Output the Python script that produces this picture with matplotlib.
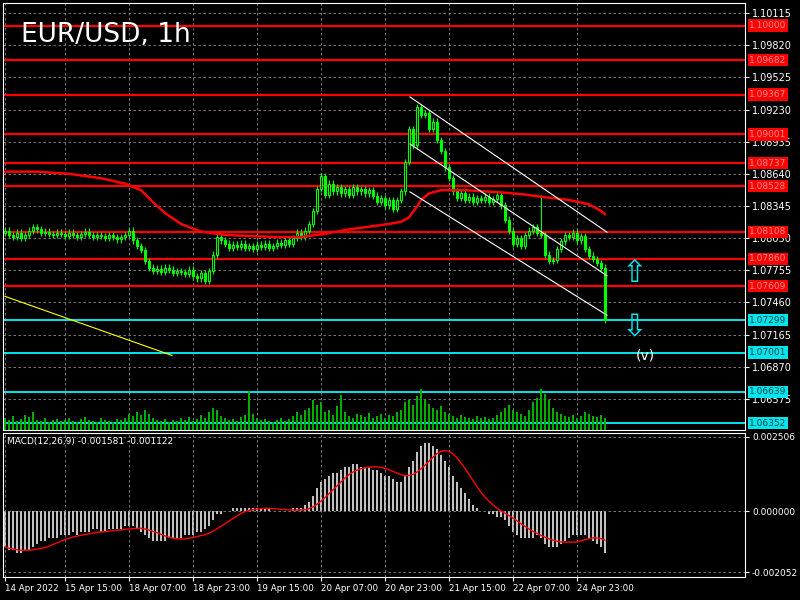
import matplotlib
matplotlib.use("Agg")
import matplotlib.pyplot as plt
import matplotlib.transforms as mtransforms
import numpy as np
import pandas as pd

closes = [1.0812,1.0808,1.0806,1.0810,1.0805,1.0808,1.0812,1.0815,1.0813,1.0810,1.0811,1.0809,1.0808,1.0810,1.0809,
1.0807,1.0810,1.0808,1.0806,1.0809,1.0811,1.0808,1.0806,1.0808,1.0807,1.0805,1.0808,1.0806,1.0804,1.0806,
1.0808,1.0812,1.0803,1.0798,1.0794,1.0784,1.0778,1.0775,1.0777,1.0774,1.0778,1.0776,1.0773,1.0775,1.0774,
1.0772,1.0776,1.0770,1.0768,1.0773,1.0766,1.0775,1.0790,1.0806,1.0803,1.0800,1.0796,1.0799,1.0797,1.0800,
1.0796,1.0798,1.0795,1.0799,1.0797,1.0800,1.0796,1.0798,1.0801,1.0799,1.0803,1.0800,1.0805,1.0810,1.0806,
1.0812,1.0818,1.0830,1.0850,1.0862,1.0845,1.0855,1.0848,1.0852,1.0846,1.0850,1.0845,1.0852,1.0848,1.0850,
1.0846,1.0849,1.0844,1.0838,1.0842,1.0835,1.0840,1.0832,1.0840,1.0848,1.0875,1.0905,1.0890,1.0925,1.0918,
1.0920,1.0905,1.0912,1.0895,1.0885,1.0870,1.0860,1.0848,1.0842,1.0846,1.0840,1.0843,1.0838,1.0842,1.0840,
1.0843,1.0838,1.0841,1.0845,1.0835,1.0822,1.0812,1.0800,1.0805,1.0798,1.0808,1.0812,1.0815,1.0810,1.0808,
1.0790,1.0784,1.0785,1.0795,1.0802,1.0808,1.0806,1.0810,1.0803,1.0807,1.0795,1.0789,1.0786,1.0782,1.0778,1.0730]
opens = [1.0810] + closes[:-1]

volumes = [12,10,14,9,11,15,13,18,10,9,12,8,10,11,9,
10,12,9,8,11,13,10,9,8,12,10,9,8,11,10,
12,16,14,18,15,20,16,12,10,9,11,8,10,9,12,
10,13,9,11,15,12,18,22,20,14,12,10,11,9,13,
15,38,16,12,10,11,9,8,10,12,9,11,14,18,15,
20,22,30,25,28,18,20,15,24,35,18,14,12,16,15,
13,17,12,14,16,12,15,14,18,20,28,30,25,34,40,
30,26,22,20,24,18,16,14,12,15,13,12,11,14,12,
13,11,12,15,18,22,25,20,18,16,14,20,28,32,40,
36,30,22,18,16,14,13,15,12,14,18,16,14,13,15,12]

ma_idx = [0, 8, 16, 24, 30, 34, 37, 40, 44, 49, 55, 61, 68, 74, 80, 86, 92, 96, 99, 101, 103, 104, 106, 109, 115, 124, 130, 134, 141, 146, 149, 150]
ma_val = [1.0866,1.0866,1.0864,1.0860,1.0855,1.0849,1.0838,1.0828,1.0818,1.0811,1.0808,1.0807,1.0806,1.0806,1.0809,1.0813,1.0816,1.0818,1.0820,1.0824,1.0834,1.0840,1.0846,1.0849,1.0849,1.0847,1.0845,1.0843,1.0840,1.0836,1.0830,1.0827]

macd_e4 = [-12,-13,-13,-14,-14,-13,-13,-12,-11,-10,-10,-9,-9,-9,-8,
-8,-8,-7,-8,-7,-7,-7,-6,-6,-7,-7,-6,-6,-6,-6,
-5,-5,-5,-6,-7,-8,-9,-10,-10,-10,-10,-9,-9,-9,-9,
-8,-8,-8,-7,-7,-6,-5,-3,-1,-1,0,0,1,1,1,
1,1,1,1,1,1,1,0,0,0,0,0,1,1,1,
2,3,5,8,10,11,12,13,13,14,15,15,16,16,15,
15,15,14,14,13,12,12,11,10,10,12,15,17,20,22,
23,23,22,21,19,17,15,12,10,8,6,4,2,1,0,
0,-1,-1,-2,-2,-3,-5,-7,-8,-9,-9,-9,-9,-8,-9,
-11,-12,-12,-12,-11,-10,-9,-8,-8,-8,-8,-9,-10,-11,-12,-14]

red_levels = [1.10000,1.09682,1.09367,1.09001,1.08737,1.08528,1.08108,1.07860,1.07609]
cyan_levels = [1.07299,1.07001,1.06639,1.06352]
price_ticks = [1.10115,1.09820,1.09525,1.09230,1.08935,1.08640,1.08345,1.08050,1.07755,1.07460,1.07165,1.06870,1.06575]
x_tick_idx = [0,15,31,47,63,79,95,111,127,143]
x_tick_labels = ["14 Apr 2022","15 Apr 15:00","18 Apr 07:00","18 Apr 23:00","19 Apr 15:00",
                 "20 Apr 07:00","20 Apr 23:00","21 Apr 15:00","22 Apr 07:00","24 Apr 23:00"]
channel_upper = ([101.25, 150.5], [1.09345, 1.08105])
channel_mid = ([101.25, 150.5], [1.08914, 1.07705])
channel_low = ([101.25, 150.5], [1.08474, 1.07343])
yellow_line = ([0, 41.75], [1.07516, 1.06974])

BG = "black"
fig = plt.figure(figsize=(8, 6), dpi=100, facecolor=BG)
ax = fig.add_axes([0.00375, 0.2833, 0.9275, 0.7117], facecolor=BG)
axm = fig.add_axes([0.00375, 0.0383, 0.9275, 0.24], facecolor=BG, sharex=ax)
XMAX = 185

n = len(closes)
idx = np.arange(n)
c = np.array(closes); o = np.array(opens)
wick = 0.0003
hi = np.maximum(o, c) + wick; lo = np.minimum(o, c) - wick
hi[134] = 1.0845
ax.vlines(idx, lo, hi, color="#00ff00", lw=0.8, zorder=3)
for i in range(n):
    bot = min(o[i], c[i]); h = max(abs(c[i] - o[i]), 0.00003)
    fc = "black" if c[i] >= o[i] else "#00ff00"
    ax.add_patch(plt.Rectangle((i - 0.3, bot), 0.6, h, facecolor=fc, edgecolor="#00ff00", lw=0.8, zorder=4))

ymin, ymax = 1.0629, 1.10207
ax.set_ylim(ymin, ymax)
ax.set_xlim(-0.5, XMAX)
axv = ax.twinx()
axv.set_ylim(0, 40 / 0.095)
axv.bar(idx, volumes, width=0.5, color="#00b000", zorder=1)
axv.set_yticks([]); axv.set_xlim(-0.5, XMAX)
for s in axv.spines.values(): s.set_visible(False)

for lv in red_levels:
    ax.axhline(lv, color="#ff0000", lw=1.6, zorder=2)
for lv in cyan_levels:
    ax.axhline(lv, color="#00e5ee", lw=1.4, zorder=2)
ax.plot(ma_idx, ma_val, color="#ff0000", lw=1.8, zorder=5)
for xs, ys in (channel_upper, channel_mid, channel_low):
    ax.plot(xs, ys, color="white", lw=0.8, zorder=5)
ax.plot(*yellow_line, color="#ffff00", lw=0.8, zorder=5)

ax.set_yticks(price_ticks)
ax.yaxis.tick_right()
ax.tick_params(axis="y", colors="white", labelsize=7, length=3, pad=2)
ax.set_xticks(x_tick_idx)
ax.tick_params(axis="x", labelbottom=False, length=0)
ax.grid(True, color="#888888", ls=(0, (3, 3)), lw=0.6)
for s in ax.spines.values(): s.set_color("white")

tr = mtransforms.blended_transform_factory(ax.transAxes, ax.transData)
for lv in red_levels:
    ax.text(1.006, lv, f"{lv:.5f}", transform=tr, fontsize=6.5, color="#ff9090", va="center", ha="left",
            bbox=dict(facecolor="#ff0000", edgecolor="none", pad=1.2), zorder=10)
for lv in cyan_levels:
    ax.text(1.006, lv, f"{lv:.5f}", transform=tr, fontsize=6.5, color="#004040", va="center", ha="left",
            bbox=dict(facecolor="#00e5ee", edgecolor="none", pad=1.2), zorder=10)

ax.text(0.024, 0.955, "EUR/USD, 1h", transform=ax.transAxes, color="white", fontsize=19, va="top")
ax.text(157.5, 1.07725, "⇧", color="#00e5ee", fontsize=22, ha="center", va="center")
ax.text(157.5, 1.07225, "⇩", color="#00e5ee", fontsize=22, ha="center", va="center")
ax.text(160, 1.0697, "(v)", color="white", fontsize=10, ha="center", va="center")

macd = np.array(macd_e4) * 1e-4
signal = pd.Series(macd).rolling(9, min_periods=1).mean().values
axm.bar(idx, macd, width=0.5, color="#c0c0c0")
axm.plot(idx, signal, color="#ff0000", lw=1)
axm.set_ylim(-0.00222, 0.00264)
axm.set_yticks([0.002506, 0.0, -0.002052])
axm.set_yticklabels(["0.002506", "0.000000", "-0.002052"])
axm.yaxis.tick_right()
axm.tick_params(axis="y", colors="white", labelsize=6.5, length=3, pad=2)
axm.set_xticks(x_tick_idx)
axm.set_xticklabels(x_tick_labels, ha="left")
axm.tick_params(axis="x", colors="white", labelsize=6.3, length=3, pad=2)
axm.grid(True, color="#888888", ls=(0, (3, 3)), lw=0.6)
for s in axm.spines.values(): s.set_color("white")
axm.text(0.005, 0.97, "MACD(12,26,9) -0.001581 -0.001122", transform=axm.transAxes, color="white", fontsize=6.5, va="top")
axm.set_xlim(-0.5, XMAX)

fig.savefig("out.png", dpi=100, facecolor=BG)
